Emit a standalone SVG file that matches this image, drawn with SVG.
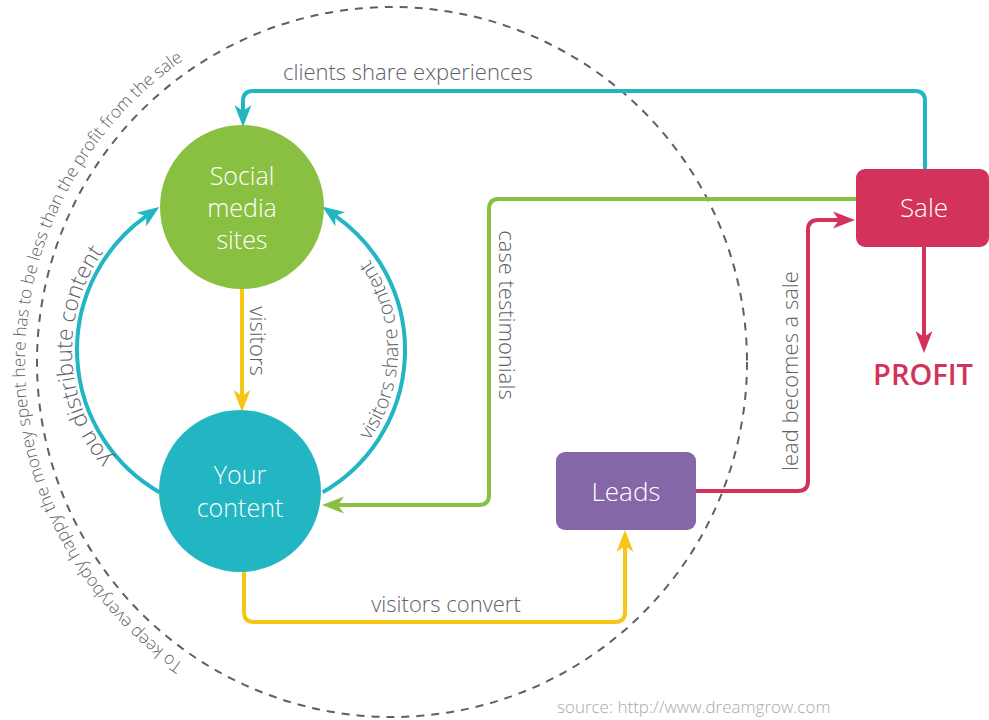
<svg xmlns="http://www.w3.org/2000/svg" xmlns:xlink="http://www.w3.org/1999/xlink" width="989" height="720" viewBox="0 0 989 720">
  <style>
    .lbl { font-family: "Open Sans", "Liberation Sans", sans-serif; font-weight: 300; fill: #606168; font-size: 22px; }
    .node-txt { font-family: "Open Sans", "Liberation Sans", sans-serif; font-weight: 300; fill: #ffffff; font-size: 25px; text-anchor: middle; }
    .conn { fill: none; stroke-width: 4; stroke-linecap: butt; stroke-linejoin: round; }
    .cyan { stroke: #22b5c2; }
    .yellow { stroke: #f7c515; }
    .green { stroke: #89c042; }
    .pink { stroke: #d3325b; }
  </style>
  <defs>
    <marker id="ah-cyan" markerUnits="userSpaceOnUse" markerWidth="24" markerHeight="20" refX="6" refY="0" viewBox="0 -10 24 20" orient="auto" overflow="visible">
      <path d="M22,0 L0,-8.5 L6,0 L0,8.5 Z" fill="#22b5c2"/>
    </marker>
    <marker id="ah-yellow" markerUnits="userSpaceOnUse" markerWidth="24" markerHeight="20" refX="6" refY="0" viewBox="0 -10 24 20" orient="auto" overflow="visible">
      <path d="M22,0 L0,-8.5 L6,0 L0,8.5 Z" fill="#f7c515"/>
    </marker>
    <marker id="ah-green" markerUnits="userSpaceOnUse" markerWidth="24" markerHeight="20" refX="6" refY="0" viewBox="0 -10 24 20" orient="auto" overflow="visible">
      <path d="M22,0 L0,-8.5 L6,0 L0,8.5 Z" fill="#89c042"/>
    </marker>
    <marker id="ah-pink" markerUnits="userSpaceOnUse" markerWidth="24" markerHeight="20" refX="6" refY="0" viewBox="0 -10 24 20" orient="auto" overflow="visible">
      <path d="M22,0 L0,-8.5 L6,0 L0,8.5 Z" fill="#d3325b"/>
    </marker>
    <!-- text baselines for curved labels -->
    <path id="outer-text-path" d="M208.5,679.8 A367,367 0 0 1 208.5,44.2"/>
    <path id="left-arc-text-path" d="M156.5,496.4 A169,169 0 0 1 156.5,203.6"/>
    <path id="right-arc-text-path" d="M319.5,486 A157,157 0 0 0 319.5,214"/>
  </defs>

  <rect width="989" height="720" fill="#ffffff"/>

  <!-- dashed boundary: money spent inside must stay below sale profit -->
  <g id="boundary">
    <circle cx="392" cy="362" r="355" fill="none" stroke="#5f6066" stroke-width="2" stroke-dasharray="8 7"/>
    <text class="lbl" style="font-size:17.3px"><textPath xlink:href="#outer-text-path" startOffset="50%" text-anchor="middle">To keep everybody happy the money spent here has to be less than the profit from the sale</textPath></text>
  </g>

  <g id="connectors">
    <!-- Sale -> Social media sites -->
    <path class="conn cyan" d="M925,169 V101 Q925,91 915,91 H253 Q243,91 243,101 V111" marker-end="url(#ah-cyan)"/>
    <text class="lbl" x="283" y="80">clients share experiences</text>

    <!-- Social media sites -> Your content -->
    <path class="conn yellow" d="M242,289 V396" marker-end="url(#ah-yellow)"/>
    <text class="lbl" transform="translate(250,341) rotate(90)" text-anchor="middle">visitors</text>

    <!-- Your content -> Social media sites (left arc) -->
    <path class="conn cyan" d="M159.7,492.4 A164,164 0 0 1 146.2,216.2" marker-end="url(#ah-cyan)"/>
    <text class="lbl" style="font-size:22.5px"><textPath xlink:href="#left-arc-text-path" startOffset="48%" text-anchor="middle">you distribute content</textPath></text>

    <!-- Your content -> Social media sites (right arc) -->
    <path class="conn cyan" d="M322.7,492.2 A164,164 0 0 0 335.3,215.8" marker-end="url(#ah-cyan)"/>
    <text class="lbl" style="font-size:20px"><textPath xlink:href="#right-arc-text-path" startOffset="50%" text-anchor="middle">visitors share content</textPath></text>

    <!-- Sale -> Your content -->
    <path class="conn green" d="M856,199 H499 Q489,199 489,209 V495 Q489,505 479,505 H338" marker-end="url(#ah-green)"/>
    <text class="lbl" transform="translate(499,315) rotate(90)" text-anchor="middle">case testimonials</text>

    <!-- Your content -> Leads -->
    <path class="conn yellow" d="M244,569 V612 Q244,622 254,622 H615 Q625,622 625,612 V546" marker-end="url(#ah-yellow)"/>
    <text class="lbl" x="446" y="612" text-anchor="middle">visitors convert</text>

    <!-- Leads -> Sale -->
    <path class="conn pink" d="M696,491 H798 Q808,491 808,481 V230 Q808,220 818,220 H839" marker-end="url(#ah-pink)"/>
    <text class="lbl" transform="translate(798,371) rotate(-90)" text-anchor="middle">lead becomes a sale</text>

    <!-- Sale -> PROFIT -->
    <path class="conn pink" d="M924,247 V337" marker-end="url(#ah-pink)"/>
  </g>

  <g id="social-media-sites">
    <circle cx="242" cy="207" r="82" fill="#89c042"/>
    <text class="node-txt" x="242" y="185">Social</text>
    <text class="node-txt" x="242" y="217">media</text>
    <text class="node-txt" x="242" y="249">sites</text>
  </g>

  <g id="your-content">
    <circle cx="240" cy="491" r="81" fill="#22b5c2"/>
    <text class="node-txt" x="240" y="484">Your</text>
    <text class="node-txt" x="240" y="517">content</text>
  </g>

  <g id="leads">
    <rect x="556" y="452" width="140" height="78" rx="9" fill="#8566a6"/>
    <text class="node-txt" x="626" y="501" style="font-size:26px">Leads</text>
  </g>

  <g id="sale">
    <rect x="856" y="169" width="133" height="78" rx="9" fill="#d3325b"/>
    <text class="node-txt" x="924" y="217" style="font-size:26px">Sale</text>
  </g>

  <g id="profit">
    <text x="923" y="385" text-anchor="middle" style="font-family:'Open Sans','Liberation Sans',sans-serif;font-size:29px;font-weight:600;fill:#d3325b">PROFIT</text>
  </g>

  <text x="557" y="713" style="font-family:'Open Sans','Liberation Sans',sans-serif;font-weight:300;font-size:17px;fill:#a9a9ad">source: http://www.dreamgrow.com</text>
</svg>
